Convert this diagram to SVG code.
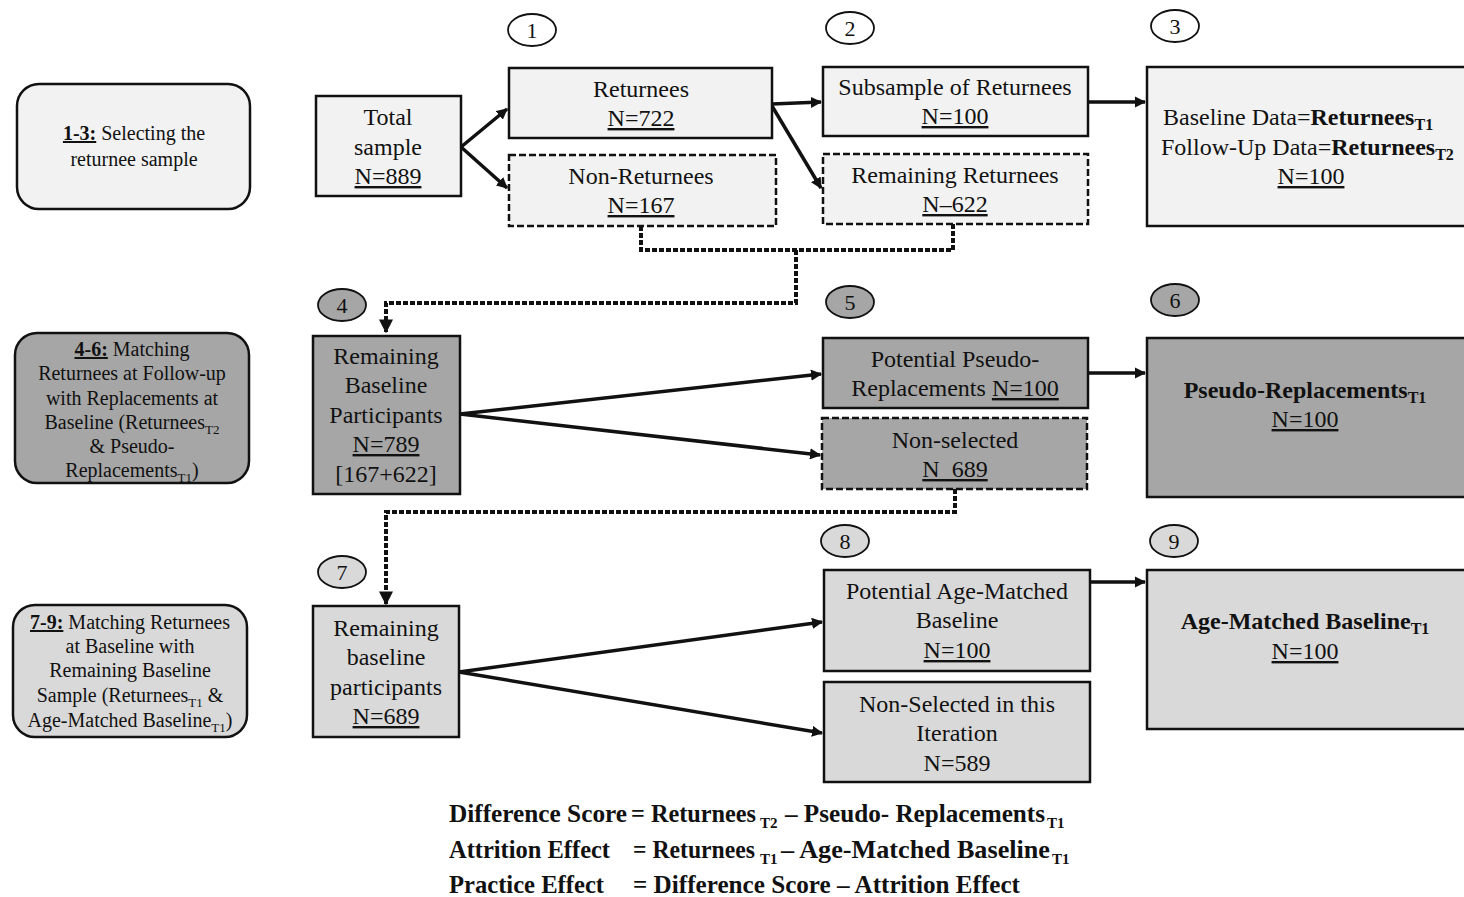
<svg xmlns="http://www.w3.org/2000/svg" width="1464" height="897" viewBox="0 0 1464 897">
<style>
text{font-family:"Liberation Serif","Times New Roman",serif;fill:#111}
.m{font-size:24px;text-anchor:middle}
.s{font-size:20px;text-anchor:middle}
.c{font-size:22px;text-anchor:middle}
.f{font-size:25px;font-weight:bold}
.fs{font-size:15px;font-weight:bold}
.b{font-weight:bold}
.u{text-decoration:underline}
.box{stroke:#111;stroke-width:2.5}
.dash{stroke-dasharray:7 3}
.l{fill:#f2f2f2}.d{fill:#a6a6a6}.g{fill:#d9d9d9}
.ov{stroke:#111;stroke-width:1.8}
.ar{fill:none;stroke:#111;stroke-width:3.5}
.dot{fill:none;stroke:#111;stroke-width:4;stroke-dasharray:5 2}
</style>
<defs>
<marker id="ah" viewBox="0 0 10 10" refX="9" refY="5" markerWidth="3.2" markerHeight="3.2" orient="auto" markerUnits="strokeWidth">
<path d="M0,0 L10,5 L0,10 z" fill="#111"/>
</marker>
<marker id="ahd" viewBox="0 0 10 10" refX="9" refY="5" markerWidth="3.5" markerHeight="3.5" orient="auto" markerUnits="strokeWidth">
<path d="M0,0 L10,5 L0,10 z" fill="#111"/>
</marker>
</defs>

<g id="connectors">
<path class="ar" marker-end="url(#ah)" d="M461,147 L507,109"/>
<path class="ar" marker-end="url(#ah)" d="M461,147 L507,188"/>
<path class="ar" marker-end="url(#ah)" d="M772,104 L821,102"/>
<path class="ar" marker-end="url(#ah)" d="M772,106 L821,188"/>
<path class="ar" marker-end="url(#ah)" d="M1088,102 L1145,102"/>
<path class="dot" d="M641,226 V250 H953 V224"/>
<path class="dot" marker-end="url(#ahd)" d="M796,250 V303 H386 V332"/>
<path class="ar" marker-end="url(#ah)" d="M460,414 L821,374"/>
<path class="ar" marker-end="url(#ah)" d="M460,414 L820,455"/>
<path class="ar" marker-end="url(#ah)" d="M1088,373 L1145,373"/>
<path class="dot" marker-end="url(#ahd)" d="M955,489 V512 H386 V604"/>
<path class="ar" marker-end="url(#ah)" d="M459,672 L822,622"/>
<path class="ar" marker-end="url(#ah)" d="M459,672 L822,733"/>
<path class="ar" marker-end="url(#ah)" d="M1090,582 L1145,582"/>
</g>

<g id="label-1-3">
<rect class="box l" x="17" y="84" width="233" height="125" rx="22"/>
<text class="s" x="134" y="140"><tspan class="b u">1-3:</tspan> Selecting the</text>
<text class="s" x="134" y="166">returnee sample</text>
</g>
<g id="label-4-6">
<rect class="box d" x="15" y="333" width="234" height="150" rx="22"/>
<text class="s" x="132" y="356"><tspan class="b u">4-6:</tspan> Matching</text>
<text class="s" x="132" y="380">Returnees at Follow-up</text>
<text class="s" x="132" y="405">with Replacements at</text>
<text class="s" x="132" y="429">Baseline (Returnees<tspan font-size="13" dy="5">T2</tspan></text>
<text class="s" x="132" y="453">&amp; Pseudo-</text>
<text class="s" x="132" y="477">Replacements<tspan font-size="13" dy="5">T1</tspan><tspan dy="-5">)</tspan></text>
</g>
<g id="label-7-9">
<rect class="box g" x="13" y="605" width="234" height="132" rx="22"/>
<text class="s" x="130" y="629"><tspan class="b u">7-9:</tspan> Matching Returnees</text>
<text class="s" x="130" y="653">at Baseline with</text>
<text class="s" x="130" y="677">Remaining Baseline</text>
<text class="s" x="130" y="702">Sample (Returnees<tspan font-size="13" dy="5">T1</tspan><tspan dy="-5"> &amp;</tspan></text>
<text class="s" x="130" y="727">Age-Matched Baseline<tspan font-size="13" dy="5">T1</tspan><tspan dy="-5">)</tspan></text>
</g>

<g id="step-numbers">
<ellipse class="ov" fill="#fff" cx="532" cy="30" rx="24" ry="16"/><text class="c" x="532" y="38">1</text>
<ellipse class="ov" fill="#fff" cx="850" cy="28" rx="24" ry="16"/><text class="c" x="850" y="36">2</text>
<ellipse class="ov" fill="#fff" cx="1175" cy="26" rx="24" ry="16"/><text class="c" x="1175" y="34">3</text>
<ellipse class="ov d" cx="342" cy="305" rx="24" ry="16"/><text class="c" x="342" y="313">4</text>
<ellipse class="ov d" cx="850" cy="302" rx="24" ry="16"/><text class="c" x="850" y="310">5</text>
<ellipse class="ov d" cx="1175" cy="300" rx="24" ry="16"/><text class="c" x="1175" y="308">6</text>
<ellipse class="ov g" cx="342" cy="572" rx="24" ry="16"/><text class="c" x="342" y="580">7</text>
<ellipse class="ov g" cx="845" cy="541" rx="24" ry="16"/><text class="c" x="845" y="549">8</text>
<ellipse class="ov g" cx="1174" cy="541" rx="24" ry="16"/><text class="c" x="1174" y="549">9</text>
</g>

<g id="total-sample">
<rect class="box l" x="316" y="96" width="145" height="100"/>
<text class="m" x="388" y="125">Total</text>
<text class="m" x="388" y="155">sample</text>
<text class="m u" x="388" y="184">N=889</text>
</g>
<g id="returnees">
<rect class="box l" x="509" y="68" width="263" height="70"/>
<text class="m" x="641" y="97">Returnees</text>
<text class="m u" x="641" y="126">N=722</text>
</g>
<g id="non-returnees">
<rect class="box l dash" x="509" y="155" width="267" height="71"/>
<text class="m" x="641" y="184">Non-Returnees</text>
<text class="m u" x="641" y="213">N=167</text>
</g>
<g id="subsample">
<rect class="box l" x="823" y="67" width="265" height="69"/>
<text class="m" x="955" y="95">Subsample of Returnees</text>
<text class="m u" x="955" y="124">N=100</text>
</g>
<g id="remaining-returnees">
<rect class="box l dash" x="823" y="154" width="265" height="70"/>
<text class="m" x="955" y="183">Remaining Returnees</text>
<text class="m u" x="955" y="212">N–622</text>
</g>
<g id="returnees-data">
<rect class="box l" x="1147" y="67" width="330" height="159"/>
<text x="1163" y="125" font-size="24">Baseline Data=<tspan class="b">Returnees<tspan font-size="16" dy="5">T1</tspan></tspan></text>
<text x="1161" y="155" font-size="24">Follow-Up Data=<tspan class="b">Returnees<tspan font-size="16" dy="5">T2</tspan></tspan></text>
<text class="m u" x="1311" y="184">N=100</text>
</g>

<g id="remaining-baseline">
<rect class="box d" x="313" y="336" width="147" height="158"/>
<text class="m" x="386" y="364">Remaining</text>
<text class="m" x="386" y="393">Baseline</text>
<text class="m" x="386" y="423">Participants</text>
<text class="m u" x="386" y="452">N=789</text>
<text class="m" x="386" y="482">[167+622]</text>
</g>
<g id="potential-pseudo">
<rect class="box d" x="823" y="338" width="265" height="70"/>
<text class="m" x="955" y="367">Potential Pseudo-</text>
<text class="m" x="955" y="396">Replacements <tspan class="u">N=100</tspan></text>
</g>
<g id="non-selected">
<rect class="box d dash" x="822" y="418" width="265" height="71"/>
<text class="m" x="955" y="448">Non-selected</text>
<text class="m u" x="955" y="477">N&#160;&#160;689</text>
</g>
<g id="pseudo-replacements">
<rect class="box d" x="1147" y="338" width="330" height="159"/>
<text class="m b" x="1305" y="398">Pseudo-Replacements<tspan font-size="16" dy="5">T1</tspan></text>
<text class="m u" x="1305" y="427">N=100</text>
</g>

<g id="remaining-baseline-2">
<rect class="box g" x="313" y="606" width="146" height="131"/>
<text class="m" x="386" y="636">Remaining</text>
<text class="m" x="386" y="665">baseline</text>
<text class="m" x="386" y="695">participants</text>
<text class="m u" x="386" y="724">N=689</text>
</g>
<g id="potential-age-matched">
<rect class="box g" x="824" y="570" width="266" height="101"/>
<text class="m" x="957" y="599">Potential Age-Matched</text>
<text class="m" x="957" y="628">Baseline</text>
<text class="m u" x="957" y="658">N=100</text>
</g>
<g id="non-selected-iteration">
<rect class="box g" x="824" y="682" width="266" height="100"/>
<text class="m" x="957" y="712">Non-Selected in this</text>
<text class="m" x="957" y="741">Iteration</text>
<text class="m" x="957" y="771">N=589</text>
</g>
<g id="age-matched">
<rect class="box g" x="1147" y="570" width="330" height="159"/>
<text class="m b" x="1305" y="629">Age-Matched Baseline<tspan font-size="16" dy="5">T1</tspan></text>
<text class="m u" x="1305" y="659">N=100</text>
</g>

<g id="formulas">
<text class="f" x="449" y="822" textLength="178" lengthAdjust="spacingAndGlyphs">Difference Score</text>
<text class="f" x="631" y="822" textLength="125" lengthAdjust="spacingAndGlyphs">= Returnees</text>
<text class="fs" x="760" y="828">T2</text>
<text class="f" x="785" y="822" textLength="260" lengthAdjust="spacingAndGlyphs">– Pseudo- Replacements</text>
<text class="fs" x="1047" y="828">T1</text>

<text class="f" x="449" y="858" textLength="161" lengthAdjust="spacingAndGlyphs">Attrition Effect</text>
<text class="f" x="633" y="858" textLength="122" lengthAdjust="spacingAndGlyphs">= Returnees</text>
<text class="fs" x="760" y="864">T1</text>
<text class="f" x="781" y="858" textLength="269" lengthAdjust="spacingAndGlyphs">– Age-Matched Baseline</text>
<text class="fs" x="1052" y="864">T1</text>

<text class="f" x="449" y="893" textLength="155" lengthAdjust="spacingAndGlyphs">Practice Effect</text>
<text class="f" x="633" y="893" textLength="387" lengthAdjust="spacingAndGlyphs">= Difference Score – Attrition Effect</text>
</g>
</svg>
